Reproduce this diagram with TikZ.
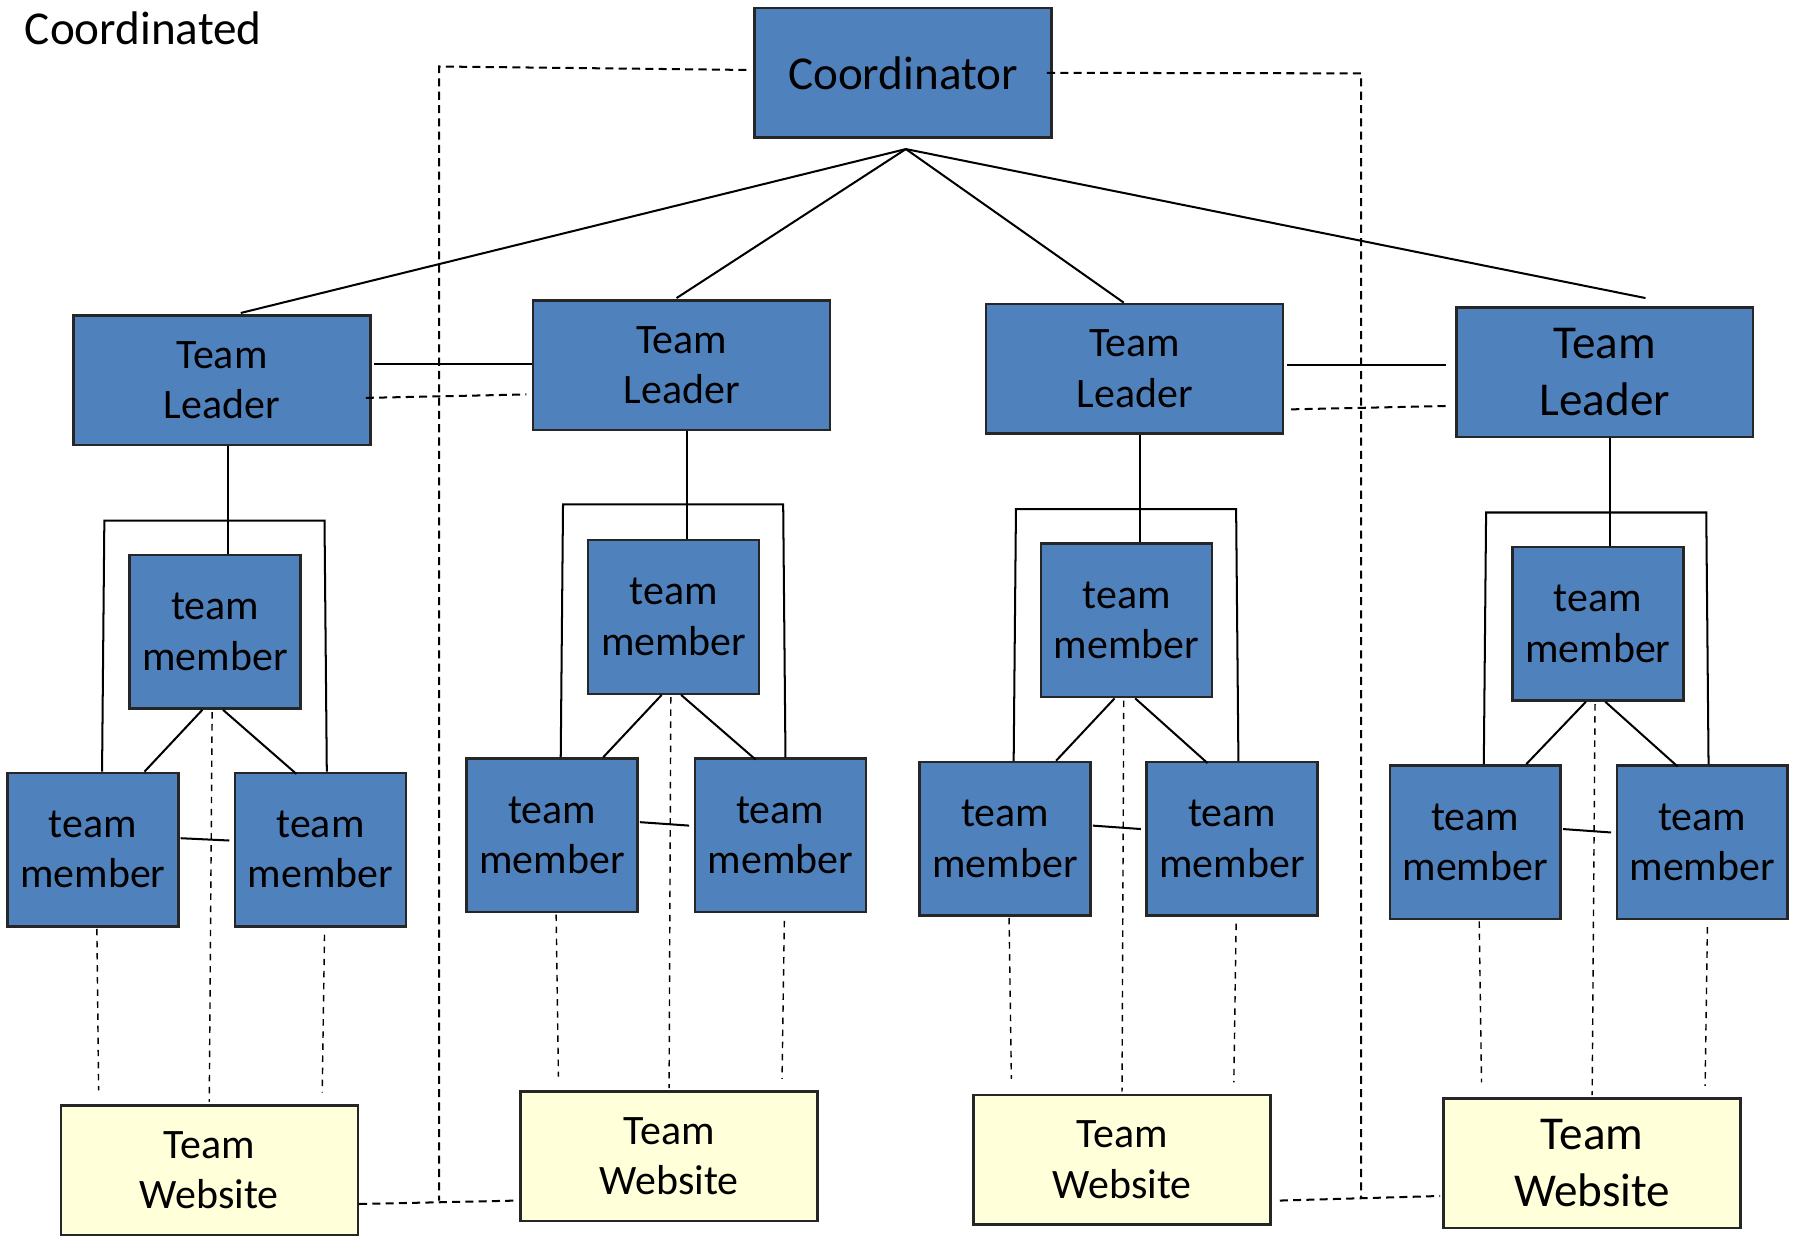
\documentclass[tikz,border=0pt]{standalone}
\usepackage{fontspec}
\setmainfont{Carlito}
\usetikzlibrary{calc}
\definecolor{boxblue}{HTML}{4F81BD}
\definecolor{siteyellow}{HTML}{FFFFDA}

\begin{document}
\begin{tikzpicture}[x=0.1mm,y=0.1mm,every node/.style={font=\fontsize{10.4}{12.5}\selectfont},
  box/.style={draw=black!85,line width=0.6pt,fill=boxblue,align=center,inner sep=0pt,minimum width=25.9mm,minimum height=11.3mm},
  member/.style={box,minimum width=14.9mm,minimum height=13.4mm},
  site/.style={box,fill=siteyellow},
  big/.style={font=\fontsize{11.7}{14.1}\selectfont},
  link/.style={line width=0.5pt},
  cdash/.style={line width=0.5pt,dash pattern=on 2pt off 1.3pt},
  fdash/.style={line width=0.35pt,dash pattern=on 1.6pt off 1.4pt}]

\useasboundingbox (0,0) rectangle (1568,1078);
\node[big,anchor=west,inner sep=0pt] (title) at (21,1053) {Coordinated};

% boxes
\node[box,big] (coord) at (787.5,1014.5) {Coordinator};
\node[box] (tl1) at (193.5,746.5) {Team\\Leader};
\node[box] (tl2) at (594.5,759.5) {Team\\Leader};
\node[box] (tl3) at (989.5,756.5) {Team\\Leader};
\node[box,big] (tl4) at (1399.5,753.5) {Team\\Leader};
\node[member] (tm1) at (187.5,527) {team\\member};
\node[member] (tm2) at (587.5,540) {team\\member};
\node[member] (tm3) at (982.5,537) {team\\member};
\node[member] (tm4) at (1393.5,534) {team\\member};
\node[member] (ml1) at (81,337) {team\\member};
\node[member] (mr1) at (279.5,337) {team\\member};
\node[member] (ml2) at (481.5,349.5) {team\\member};
\node[member] (mr2) at (680.5,349.5) {team\\member};
\node[member] (ml3) at (876.5,346.5) {team\\member};
\node[member] (mr3) at (1074.5,346.5) {team\\member};
\node[member] (ml4) at (1286.5,343.5) {team\\member};
\node[member] (mr4) at (1484.5,343.5) {team\\member};
\node[site] (w1) at (182.5,57.5) {Team\\Website};
\node[site] (w2) at (583.5,69.5) {Team\\Website};
\node[site] (w3) at (978.5,66.5) {Team\\Website};
\node[site,big] (w4) at (1388.5,63.5) {Team\\Website};

% coordinator to leaders
\coordinate (hub) at (790,948);
\draw[link] (hub) -- ($(tl1.north)+(16.5,1)$);
\draw[link] (hub) -- ($(tl2.north)+(-4.5,1)$);
\draw[link] (hub) -- ($(tl3.north)+(-9.5,0)$);
\draw[link] (hub) -- ($(tl4.north)+(35.5,7)$);

% leader pairs
\draw[link] ($(tl1.east)+(2,14)$) coordinate (a1) -- (a1 -| tl2.west);
\draw[cdash] ($(tl1.east)+(-5,-15.5)$) -- ($(tl2.west)+(-5,-25.5)$);
\draw[link] ($(tl3.east)+(2,3.5)$) -- ($(tl4.west)+(-8,6.5)$);
\draw[cdash] ($(tl3.east)+(6,-35.5)$) -- ($(tl4.west)+(-5,-29.5)$);

% coordinator to websites
\coordinate (cl) at (383,1020);
\coordinate (cld) at (383,31);
\coordinate (cr) at (1187,1014);
\coordinate (crd) at (1187,33);
\draw[cdash] ($(coord.west)+(-6,2.5)$) -- (cl) -- (cld);
\draw[cdash] ($(coord.east)+(-5,0)$) -- (cr) -- (crd);
\draw[cdash] ($(w1.east)+(0,-29.5)$) -- ($(w2.west)+(-2,-38.5)$);
\draw[cdash] ($(w3.east)+(7,-35.5)$) -- ($(w4.west)+(-2,-28.5)$);

% group 1
\draw[link] ($(tl1.south)+(5.5,0)$) coordinate (t1) -- (t1 |- tm1.north);
\draw[link] ($(ml1.north)+(8,0)$) -- ($(tm1.north)+(-96.5,29)$) -- ($(tm1.north)+(95.5,29)$) -- ($(mr1.north)+(5.5,0)$);
\draw[link] ($(tm1.south)+(-11,0)$) -- ($(ml1.north)+(45,0)$);
\draw[link] ($(tm1.south)+(7,0)$) -- ($(mr1.north)+(-21,-2)$);
\draw[link] ($(ml1.east)+(1,10)$) -- ($(mr1.west)+(-4,8)$);
\draw[fdash] ($(tm1.south)+(-2.5,-2)$) -- ($(w1.north)+(0,2)$);
\draw[fdash] ($(ml1.south)+(3.5,-1)$) -- ($(w1.north)+(-96.5,12)$);
\draw[fdash] ($(mr1.south)+(3.5,-6)$) -- ($(w1.north)+(98.5,10)$);

% group 2
\draw[link] ($(tl2.south)+(4.5,0)$) coordinate (t2) -- (t2 |- tm2.north);
\draw[link] ($(ml2.north)+(7.5,0)$) -- ($(tm2.north)+(-96.5,30)$) -- ($(tm2.north)+(95.5,30)$) -- ($(mr2.north)+(4.5,0)$);
\draw[link] ($(tm2.south)+(-10.5,0)$) -- ($(ml2.north)+(44.5,0)$);
\draw[link] ($(tm2.south)+(6.5,0)$) -- ($(mr2.north)+(-21.5,-2)$);
\draw[link] ($(ml2.east)+(1,11.5)$) -- ($(mr2.west)+(-4,8.5)$);
\draw[fdash] ($(tm2.south)+(-2.5,-2)$) -- ($(w2.north)+(0,2)$);
\draw[fdash] ($(ml2.south)+(3.5,-1)$) -- ($(w2.north)+(-96.5,12)$);
\draw[fdash] ($(mr2.south)+(3.5,-6.5)$) -- ($(w2.north)+(98.5,10)$);

% group 3
\draw[link] ($(tl3.south)+(4.5,0)$) coordinate (t3) -- (t3 |- tm3.north);
\draw[link] ($(ml3.north)+(7.5,0)$) -- ($(tm3.north)+(-96.5,29)$) -- ($(tm3.north)+(95.5,29)$) -- ($(mr3.north)+(5.5,0)$);
\draw[link] ($(tm3.south)+(-10.5,0)$) -- ($(ml3.north)+(44.5,0)$);
\draw[link] ($(tm3.south)+(7.5,0)$) -- ($(mr3.north)+(-21.5,-2)$);
\draw[link] ($(ml3.east)+(1,11.5)$) -- ($(mr3.west)+(-4,8.5)$);
\draw[fdash] ($(tm3.south)+(-2.5,-2)$) -- ($(w3.north)+(0,2)$);
\draw[fdash] ($(ml3.south)+(3.5,-1)$) -- ($(w3.north)+(-96.5,13)$);
\draw[fdash] ($(mr3.south)+(3.5,-6)$) -- ($(w3.north)+(97.5,10)$);

% group 4
\draw[link] ($(tl4.south)+(4.5,0)$) coordinate (t4) -- (t4 |- tm4.north);
\draw[link] ($(ml4.north)+(7.5,0)$) -- ($(tm4.north)+(-97.5,29)$) -- ($(tm4.north)+(94.5,29)$) -- ($(mr4.north)+(5.5,0)$);
\draw[link] ($(tm4.south)+(-10.5,0)$) -- ($(ml4.north)+(44.5,0)$);
\draw[link] ($(tm4.south)+(6.5,0)$) -- ($(mr4.north)+(-21.5,-2)$);
\draw[link] ($(ml4.east)+(1,11.5)$) -- ($(mr4.west)+(-4,8.5)$);
\draw[fdash] ($(tm4.south)+(-2.5,-2)$) -- ($(w4.north)+(0,2)$);
\draw[fdash] ($(ml4.south)+(3.5,-1)$) -- ($(w4.north)+(-96.5,13)$);
\draw[fdash] ($(mr4.south)+(4.5,-6)$) -- ($(w4.north)+(98.5,10)$);
\end{tikzpicture}
\end{document}
